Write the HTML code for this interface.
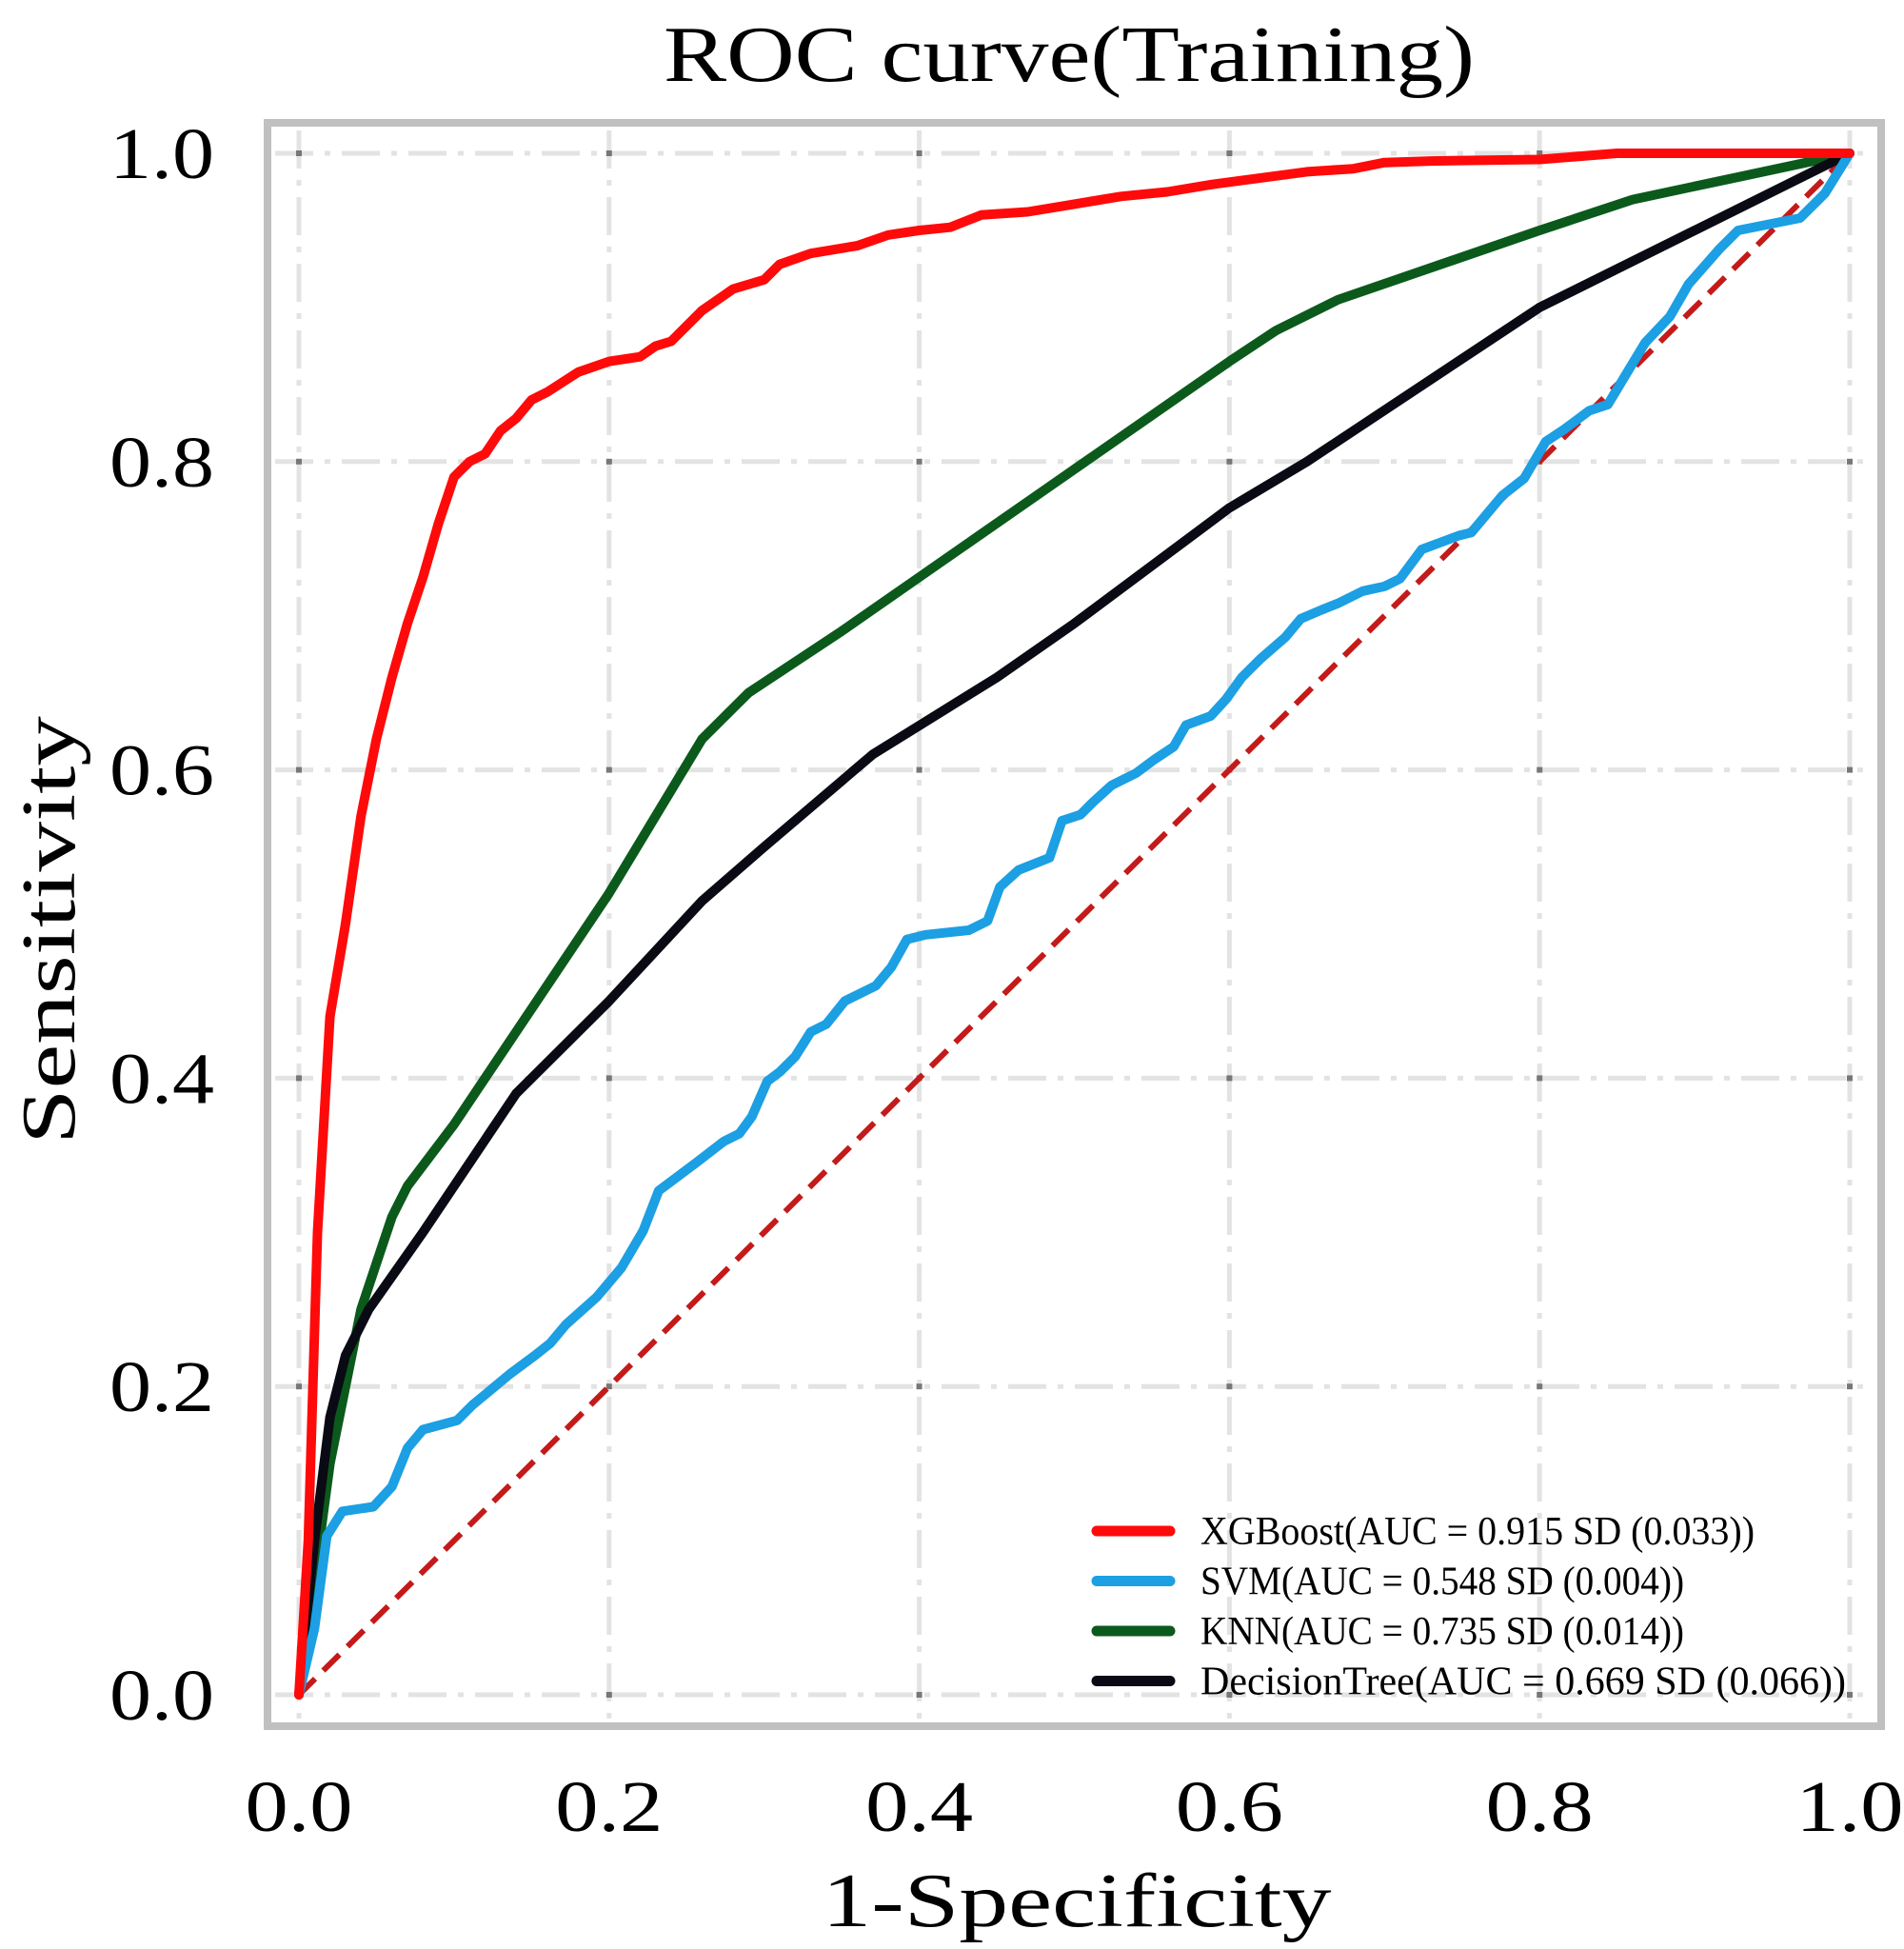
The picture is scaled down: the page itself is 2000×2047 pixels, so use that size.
<!DOCTYPE html>
<html><head><meta charset="utf-8"><style>
html,body{margin:0;padding:0;background:#fff;}
svg{display:block;font-family:"Liberation Serif","Noto Serif CJK SC",serif;}
</style></head><body>
<svg id="chart" width="2000" height="2047" viewBox="0 0 2000 2047" xmlns="http://www.w3.org/2000/svg">
<rect x="0" y="0" width="2000" height="2047" fill="#fff"/>
<text x="1123" y="85" font-size="84" text-anchor="middle" textLength="852" lengthAdjust="spacingAndGlyphs" fill="#000">ROC curve(Training)</text>
<g id="grid"></g>
<g id="series"></g>
<rect x="281" y="129" width="1695" height="1684" fill="none" stroke="#c0c0c0" stroke-width="8"/>
<g id="ticks"></g>
<text x="1131" y="2023" font-size="80" text-anchor="middle" textLength="535" lengthAdjust="spacingAndGlyphs">1-Specificity</text>
<text x="0" y="0" font-size="80" text-anchor="middle" textLength="450" lengthAdjust="spacingAndGlyphs" transform="translate(78,977) rotate(-90)">Sensitivity</text>
<g id="legend"></g>
</svg>
<script>
const tickValues = [0, 0.2, 0.4, 0.6, 0.8, 1.0];
const tickLabels = ["0.0","0.2","0.4","0.6","0.8","1.0"];
const seriesNames = ["XGBoost(AUC = 0.915 SD (0.033))","SVM(AUC = 0.548 SD (0.004))","KNN(AUC = 0.735 SD (0.014))","DecisionTree(AUC = 0.669 SD (0.066))"];
const xgbFpr = [0,0.006,0.012,0.02,0.03,0.04,0.05,0.06,0.07,0.08,0.09,0.1,0.11,0.12,0.13,0.14,0.15,0.16,0.18,0.2,0.22,0.23,0.24,0.26,0.28,0.3,0.31,0.33,0.36,0.38,0.4,0.42,0.44,0.47,0.5,0.53,0.56,0.59,0.62,0.65,0.68,0.7,0.73,0.8,0.85,1];
const xgbTpr = [0,0.1,0.3,0.44,0.5,0.57,0.62,0.66,0.695,0.725,0.76,0.79,0.8,0.805,0.82,0.828,0.84,0.845,0.858,0.865,0.868,0.875,0.878,0.898,0.912,0.918,0.928,0.935,0.94,0.947,0.95,0.952,0.96,0.962,0.967,0.972,0.975,0.98,0.984,0.988,0.99,0.994,0.995,0.996,1,1];
const svmFpr = [0,0.01,0.018,0.028,0.048,0.06,0.07,0.08,0.102,0.112,0.124,0.136,0.152,0.162,0.172,0.192,0.208,0.222,0.232,0.256,0.274,0.284,0.292,0.302,0.31,0.32,0.33,0.34,0.352,0.372,0.382,0.392,0.404,0.432,0.444,0.452,0.464,0.484,0.492,0.504,0.512,0.524,0.54,0.552,0.564,0.572,0.588,0.598,0.608,0.62,0.636,0.646,0.66,0.67,0.686,0.7,0.71,0.724,0.748,0.756,0.776,0.79,0.804,0.816,0.832,0.844,0.856,0.868,0.884,0.896,0.916,0.928,0.948,0.968,0.984,1];
const svmTpr = [0,0.043,0.103,0.119,0.122,0.135,0.16,0.172,0.178,0.188,0.198,0.208,0.22,0.228,0.24,0.258,0.277,0.301,0.327,0.345,0.359,0.364,0.375,0.398,0.404,0.414,0.43,0.435,0.45,0.46,0.472,0.49,0.493,0.496,0.502,0.524,0.535,0.543,0.567,0.571,0.579,0.59,0.598,0.607,0.615,0.629,0.635,0.646,0.66,0.672,0.686,0.698,0.704,0.708,0.716,0.719,0.724,0.743,0.752,0.754,0.778,0.789,0.813,0.821,0.833,0.837,0.857,0.877,0.894,0.915,0.938,0.95,0.954,0.958,0.974,1];
const knnFpr = [0,0.02,0.04,0.05,0.06,0.07,0.1,0.15,0.2,0.26,0.29,0.35,0.4,0.5,0.6,0.63,0.67,0.8,0.86,0.93,1];
const knnTpr = [0,0.15,0.25,0.28,0.31,0.33,0.37,0.445,0.52,0.62,0.65,0.69,0.725,0.795,0.865,0.885,0.905,0.95,0.97,0.985,1];
const dtFpr = [0,0.01,0.02,0.03,0.045,0.08,0.14,0.2,0.26,0.3,0.37,0.45,0.5,0.6,0.65,0.8,0.9,1];
const dtTpr = [0,0.1,0.18,0.22,0.25,0.3,0.39,0.45,0.515,0.55,0.61,0.66,0.695,0.77,0.8,0.9,0.95,1];
const diagFpr = [0,1];
const diagTpr = [0,1];

const NS="http://www.w3.org/2000/svg";
const X0=314,X1=1943,Y0=1780,Y1=161;
function sx(v){return X0+(X1-X0)*v;}
function sy(v){return Y0-(Y0-Y1)*v;}
function mk(tag,attrs,parent){const e=document.createElementNS(NS,tag);for(const k in attrs)e.setAttribute(k,attrs[k]);parent.appendChild(e);return e;}
const grid=document.getElementById('grid'),ticks=document.getElementById('ticks'),series=document.getElementById('series'),legend=document.getElementById('legend');
tickValues.forEach((v,i)=>{
  let g=mk('line',{x1:sx(v),x2:sx(v),y1:137,y2:1805,stroke:'#e3e3e3','stroke-width':5,'stroke-dasharray':'40 12 6 12'},grid);
  
  
  let h=mk('line',{x1:289,x2:1968,y1:sy(v),y2:sy(v),stroke:'#e3e3e3','stroke-width':5,'stroke-dasharray':'40 12 6 12'},grid);
  
  
  let tx=mk('text',{x:sx(v),y:1923,'font-size':76,'text-anchor':'middle',textLength:113,lengthAdjust:'spacingAndGlyphs'},ticks);
  tx.textContent=tickLabels[i];
  
  
  let ty=mk('text',{x:225,y:sy(v)+26,'font-size':76,'text-anchor':'end',textLength:110,lengthAdjust:'spacingAndGlyphs'},ticks);
  ty.textContent=tickLabels[i];
  
  
});
tickValues.forEach(a=>tickValues.forEach(b=>{
  let d=mk('rect',{x:sx(a)-3,y:sy(b)-3,width:6,height:6,fill:'#777'},grid);
  
  
}));
function path(xs,ys){return xs.map((x,i)=>(i?'L':'M')+sx(x).toFixed(1)+' '+sy(ys[i]).toFixed(1)).join(' ');}
let diag=mk('path',{d:path(diagFpr,diagTpr),fill:'none',stroke:'#c41a1a','stroke-width':6,'stroke-dasharray':'24 12'},series);


const defs=[[knnFpr,knnTpr,'#0b5a1c','knn-curve'],[dtFpr,dtTpr,'#0a0a14','decision-tree-curve'],[svmFpr,svmTpr,'#1c9fe3','svm-curve'],[xgbFpr,xgbTpr,'#ff0a0a','xgboost-curve']];
defs.forEach(d=>{
  let p=mk('path',{d:path(d[0],d[1]),fill:'none',stroke:d[2],'stroke-width':10,'stroke-linejoin':'round','stroke-linecap':'round'},series);
  
  
});
const legColors=['#ff0a0a','#1c9fe3','#0b5a1c','#0a0a14'];
const legW=[582,508,508,678];
seriesNames.forEach((n,i)=>{
  const y=1608+i*52.5;
  let l=mk('line',{x1:1152,x2:1229,y1:y,y2:y,stroke:legColors[i],'stroke-width':11,'stroke-linecap':'round'},legend);
  
  
  let t=mk('text',{x:1261,y:y+14,'font-size':42,textLength:legW[i],lengthAdjust:'spacingAndGlyphs'},legend);
  t.textContent=n;
  
  
});
</script>
</body></html>
